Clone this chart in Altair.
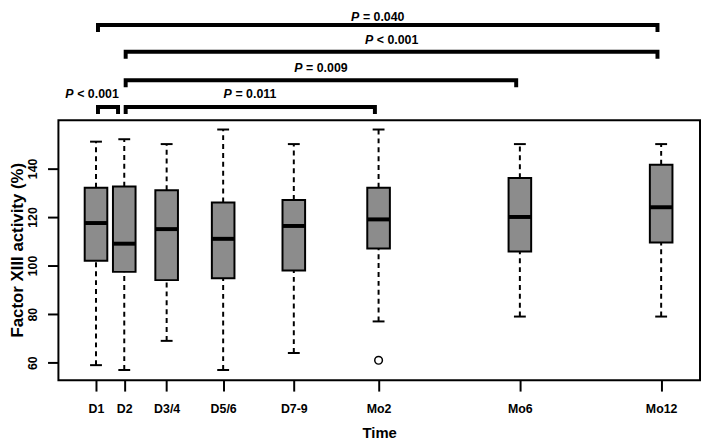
import json
import altair as alt
import pandas as pd

# ---- data ----
labels = ["D1", "D2", "D3/4", "D5/6", "D7-9", "Mo2", "Mo6", "Mo12"]
positions = [1, 2, 3.5, 5.5, 8, 11, 16, 21]
whisker_low = [59, 57, 69, 57, 64, 77, 79, 79]
q1 = [102, 97.4, 94, 94.8, 98, 107, 105.8, 109.5]
median = [117.5, 109, 115, 111, 116.3, 119, 120, 124]
q3 = [132, 132.5, 131, 126, 127, 132, 136, 141.5]
whisker_high = [151, 152, 150, 156, 150, 156, 150, 150]
outlier_pos = [11]
outlier_val = [61]

y_ticks = [60, 80, 100, 120, 140]

# significance brackets
bracket_start = [1.07, 2.05, 2.05, 2.05, 1.07]
bracket_end = [1.78, 10.87, 15.87, 20.87, 20.87]
bracket_level = [165.3, 165.3, 176.3, 188.0, 199.0]
bracket_drop = 2.9
p_rest = ["< 0.001", "= 0.011", "= 0.009", "< 0.001", "= 0.040"]
label_x = [0.86, 6.46, 8.96, 11.46, 10.97]
label_y = [170.6, 170.6, 181.4, 193.0, 202.3]

x_domain = [-0.33, 22.375]
y_domain = [52.8, 205.0]
frame_y = [52.8, 159.8]

FONT = "Liberation Sans"

# ---- tables ----
boxes = pd.DataFrame({
    "label": labels, "pos": positions, "low": whisker_low, "q1": q1,
    "med": median, "q3": q3, "high": whisker_high,
})
outliers = pd.DataFrame({"pos": outlier_pos, "val": outlier_val})
frame = pd.DataFrame({"x1": [x_domain[0]], "x2": [x_domain[1]],
                      "y1": [frame_y[0]], "y2": [frame_y[1]]})

rows = []
for i, (a, b, lv) in enumerate(zip(bracket_start, bracket_end, bracket_level)):
    pts = [(a, lv - bracket_drop), (a, lv), (b, lv), (b, lv - bracket_drop)]
    for k, (px, py) in enumerate(pts):
        rows.append({"bid": i, "pt": k, "bx": px, "by": py})
brackets = pd.DataFrame(rows)
ptext = pd.DataFrame({"tx": label_x, "ty": label_y, "rest": p_rest, "p": ["P"] * len(p_rest)})

label_map = json.dumps({str(p): l for p, l in zip(positions, labels)})

xscale = alt.Scale(domain=x_domain, nice=False, zero=False)
yscale = alt.Scale(domain=y_domain, nice=False, zero=False)

xaxis = alt.Axis(values=positions, labelExpr=f"{label_map}[datum.value]", title="Time",
                 domain=False, grid=False, tickSize=11, tickWidth=2, tickColor="black",
                 labelFont=FONT, labelFontSize=12.5, labelFontWeight="bold", labelColor="black",
                 labelPadding=12, titleFont=FONT, titleFontSize=15, titleFontWeight="bold",
                 titleColor="black", titlePadding=10)
yaxis = alt.Axis(values=y_ticks, title="Factor XIII activity (%)", domain=False, grid=False,
                 tickSize=11, tickWidth=2, tickColor="black",
                 labelFont=FONT, labelFontSize=12.5, labelFontWeight="bold", labelColor="black",
                 labelAngle=270, labelAlign="center", labelBaseline="bottom", labelPadding=8,
                 titleFont=FONT, titleFontSize=17, titleFontWeight="bold", titleColor="black",
                 titleAngle=270, titleAlign="center", titleBaseline="middle",
                 titleX=-41.5, titleY=242)


def X(f):
    return alt.X(f"{f}:Q", scale=xscale, axis=xaxis)


def Y(f):
    return alt.Y(f"{f}:Q", scale=yscale, axis=yaxis)


frame_l = alt.Chart(frame).mark_rect(fillOpacity=0, stroke="black", strokeWidth=2).encode(
    x=X("x1"), x2="x2", y=Y("y1"), y2="y2")

base = alt.Chart(boxes).transform_calculate(
    bl="datum.pos - 0.4", br="datum.pos + 0.4",
    cl="datum.pos - 0.21", cr="datum.pos + 0.21")

wl = base.mark_rule(color="black", strokeWidth=2, strokeDash=[5, 4]).encode(
    x=X("pos"), y=Y("low"), y2="q1")
wh = base.mark_rule(color="black", strokeWidth=2, strokeDash=[5, 4]).encode(
    x=X("pos"), y=Y("q3"), y2="high")
cap_l = base.mark_rule(color="black", strokeWidth=2).encode(
    x=X("cl"), x2="cr", y=Y("low"))
cap_h = base.mark_rule(color="black", strokeWidth=2).encode(
    x=X("cl"), x2="cr", y=Y("high"))
box = base.mark_rect(fill="#8c8c8c", stroke="black", strokeWidth=2).encode(
    x=X("bl"), x2="br", y=Y("q1"), y2="q3")
med = base.mark_rule(color="black", strokeWidth=4).encode(
    x=X("bl"), x2="br", y=Y("med"))
out = alt.Chart(outliers).mark_point(shape="circle", size=60, filled=False, stroke="black",
                                     strokeWidth=1.5, fill="white", opacity=1).encode(
    x=X("pos"), y=Y("val"))

br = alt.Chart(brackets).mark_line(color="black", strokeWidth=4, strokeJoin="miter",
                                   strokeCap="butt").encode(
    x=X("bx"), y=Y("by"), detail="bid:N", order="pt:Q")

t_p = alt.Chart(ptext).mark_text(font=FONT, fontSize=12.5, fontWeight="bold", fontStyle="italic",
                                 align="left", baseline="middle", dx=-27, color="black").encode(
    x=X("tx"), y=Y("ty"), text="p:N")
t_r = alt.Chart(ptext).mark_text(font=FONT, fontSize=12.5, fontWeight="bold",
                                 align="left", baseline="middle", dx=-15, color="black").encode(
    x=X("tx"), y=Y("ty"), text="rest:N")

chart = alt.layer(frame_l, wl, wh, cap_l, cap_h, box, med, out, br, t_p, t_r).properties(
    width=649, height=374, padding=0, background="white"
).configure_view(stroke=None)

chart.save("out.html", embed_options={"renderer": "svg", "actions": False})
